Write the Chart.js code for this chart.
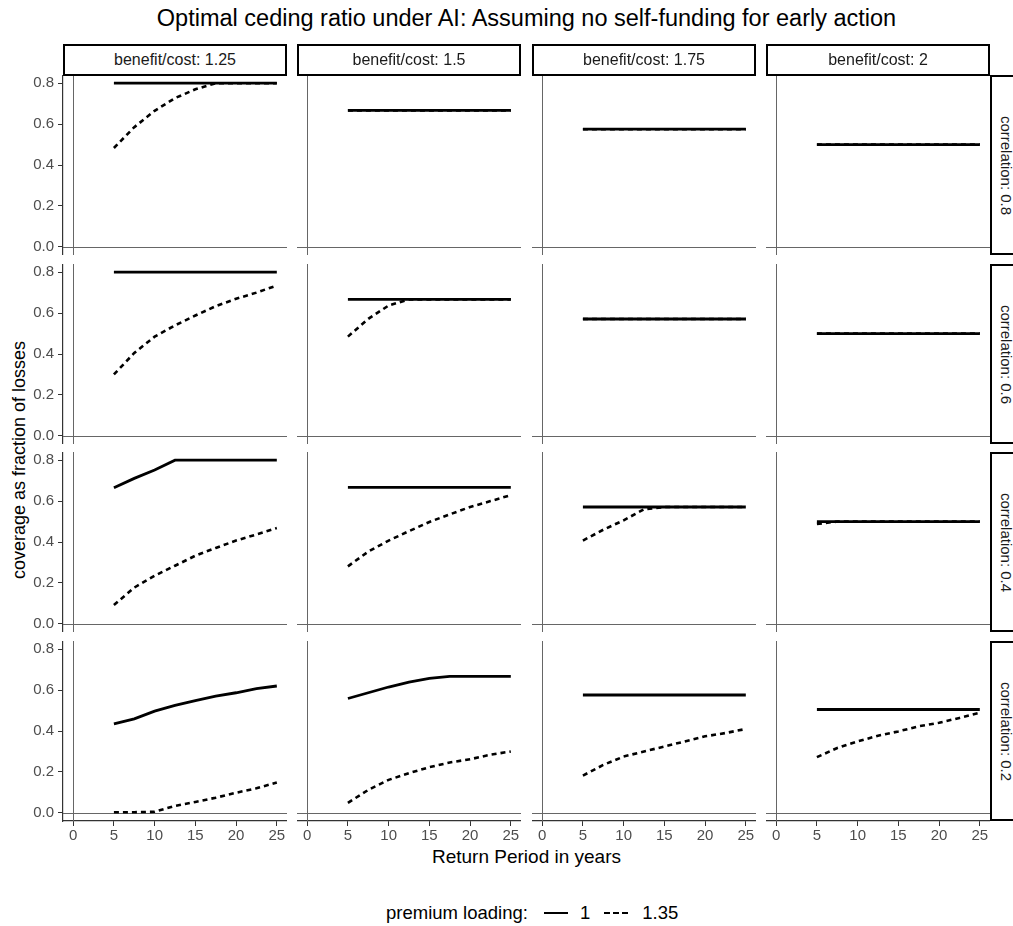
<!DOCTYPE html>
<html>
<head>
<meta charset="utf-8">
<script src="https://cdn.jsdelivr.net/npm/chart.js@4/dist/chart.umd.min.js"></script>
<style>
  body { margin: 0; background: #fff; font-family: 'Liberation Sans', Arial, sans-serif; }
  #wrap { position: relative; width: 1013px; height: 926px; overflow: hidden; }
  .abs { position: absolute; }
  .strip { position: absolute; box-sizing: border-box; border: 2px solid #000; background: #fff;
           font-size: 16px; color: #1a1a1a; display: flex; align-items: center; justify-content: center; }
  .rstrip { font-size: 15px; }
  .rstrip span { transform: rotate(90deg); white-space: nowrap; }
  .cell { position: absolute; }
</style>
</head>
<body>
<div id="wrap">
  <div class="abs" style="left:0;width:1053px;top:5px;text-align:center;font-size:23.5px;color:#000;">Optimal ceding ratio under AI: Assuming no self-funding for early action</div>
  <div class="abs" style="left:19px;top:460px;width:0;height:0;">
    <div style="position:absolute;transform:translate(-50%,-50%) rotate(-90deg);white-space:nowrap;font-size:18px;color:#000;">coverage as fraction of losses</div>
  </div>
  <div class="abs" style="left:0;width:1053px;top:846px;text-align:center;font-size:19px;color:#000;">Return Period in years</div>
  <div class="abs" style="left:386px;top:902px;font-size:18.5px;color:#000;display:flex;align-items:center;white-space:nowrap;">
    <span>premium loading:</span>
    <span style="display:inline-block;width:24px;border-top:2.5px solid #000;margin:0 12px 0 16px;"></span>
    <span>1</span>
    <span style="display:inline-block;width:24px;border-top:2.5px dashed #000;margin:0 14px 0 14px;"></span>
    <span>1.35</span>
  </div>
</div>
<script>
// x positions (return period) and facet labels
const returnPeriods = [5, 7.5, 10, 12.5, 15, 17.5, 20, 22.5, 25];
const benefitCost = ['1.25', '1.5', '1.75', '2'];
const correlations = ['0.8', '0.6', '0.4', '0.2'];
const xTicks = [0, 5, 10, 15, 20, 25];
const yTicks = [0, 0.2, 0.4, 0.6, 0.8];

// premium loading 1 (solid) - one list per benefit/cost column
const load1Corr08 = [
  [0.8, 0.8, 0.8, 0.8, 0.8, 0.8, 0.8, 0.8, 0.8],
  [0.667, 0.667, 0.667, 0.667, 0.667, 0.667, 0.667, 0.667, 0.667],
  [0.575, 0.575, 0.575, 0.575, 0.575, 0.575, 0.575, 0.575, 0.575],
  [0.5, 0.5, 0.5, 0.5, 0.5, 0.5, 0.5, 0.5, 0.5]
];
const load1Corr06 = [
  [0.8, 0.8, 0.8, 0.8, 0.8, 0.8, 0.8, 0.8, 0.8],
  [0.667, 0.667, 0.667, 0.667, 0.667, 0.667, 0.667, 0.667, 0.667],
  [0.571, 0.571, 0.571, 0.571, 0.571, 0.571, 0.571, 0.571, 0.571],
  [0.5, 0.5, 0.5, 0.5, 0.5, 0.5, 0.5, 0.5, 0.5]
];
const load1Corr04 = [
  [0.665, 0.711, 0.752, 0.8, 0.8, 0.8, 0.8, 0.8, 0.8],
  [0.667, 0.667, 0.667, 0.667, 0.667, 0.667, 0.667, 0.667, 0.667],
  [0.571, 0.571, 0.571, 0.571, 0.571, 0.571, 0.571, 0.571, 0.571],
  [0.5, 0.5, 0.5, 0.5, 0.5, 0.5, 0.5, 0.5, 0.5]
];
const load1Corr02 = [
  [0.435, 0.459, 0.497, 0.525, 0.549, 0.57, 0.587, 0.607, 0.62],
  [0.559, 0.587, 0.615, 0.639, 0.657, 0.667, 0.667, 0.667, 0.667],
  [0.576, 0.576, 0.576, 0.576, 0.576, 0.576, 0.576, 0.576, 0.576],
  [0.505, 0.505, 0.505, 0.505, 0.505, 0.505, 0.505, 0.505, 0.505]
];

// premium loading 1.35 (dashed)
const load135Corr08 = [
  [0.483, 0.585, 0.665, 0.727, 0.77, 0.8, 0.8, 0.8, 0.8],
  [0.667, 0.667, 0.667, 0.667, 0.667, 0.667, 0.667, 0.667, 0.667],
  [0.575, 0.575, 0.575, 0.575, 0.575, 0.575, 0.575, 0.575, 0.575],
  [0.5, 0.5, 0.5, 0.5, 0.5, 0.5, 0.5, 0.5, 0.5]
];
const load135Corr06 = [
  [0.3, 0.405, 0.485, 0.54, 0.588, 0.634, 0.67, 0.7, 0.735],
  [0.485, 0.572, 0.637, 0.667, 0.667, 0.667, 0.667, 0.667, 0.667],
  [0.571, 0.571, 0.571, 0.571, 0.571, 0.571, 0.571, 0.571, 0.571],
  [0.5, 0.5, 0.5, 0.5, 0.5, 0.5, 0.5, 0.5, 0.5]
];
const load135Corr04 = [
  [0.092, 0.177, 0.235, 0.284, 0.333, 0.371, 0.407, 0.437, 0.468],
  [0.281, 0.353, 0.407, 0.453, 0.498, 0.535, 0.571, 0.6, 0.629],
  [0.407, 0.46, 0.506, 0.56, 0.571, 0.571, 0.571, 0.571, 0.571],
  [0.488, 0.5, 0.5, 0.5, 0.5, 0.5, 0.5, 0.5, 0.5]
];
const load135Corr02 = [
  [0.003, 0.003, 0.005, 0.034, 0.053, 0.074, 0.098, 0.12, 0.148],
  [0.049, 0.112, 0.161, 0.194, 0.223, 0.246, 0.262, 0.284, 0.3],
  [0.182, 0.234, 0.275, 0.3, 0.324, 0.349, 0.374, 0.39, 0.41],
  [0.272, 0.317, 0.349, 0.377, 0.398, 0.423, 0.44, 0.464, 0.489]
];

const solidRows = [load1Corr08, load1Corr06, load1Corr04, load1Corr02];
const dashedRows = [load135Corr08, load135Corr06, load135Corr04, load135Corr02];

// panel layout
const colLeft = [63, 297, 532, 766];
const rowTop = [75, 264, 452, 641];
const panelW = 224;
const panelH = 180;
const axisW = 63;
const axisH = 30;

const wrap = document.getElementById('wrap');

// grey reference lines at x = 0 and y = 0
const zeroLines = {
  id: 'zeroLines',
  beforeDatasetsDraw(chart) {
    const { ctx, chartArea, scales } = chart;
    const x0 = Math.round(scales.x.getPixelForValue(0)) + 0.5;
    const y0 = Math.round(scales.y.getPixelForValue(0)) + 0.5;
    ctx.save();
    ctx.strokeStyle = '#666';
    ctx.lineWidth = 1;
    ctx.beginPath();
    ctx.moveTo(x0, chartArea.top);
    ctx.lineTo(x0, chartArea.bottom);
    ctx.moveTo(chartArea.left, y0);
    ctx.lineTo(chartArea.right, y0);
    ctx.stroke();
    ctx.restore();
  }
};

function pts(vals) {
  return vals.map((v, i) => ({ x: returnPeriods[i], y: v }));
}

function makePanel(r, c) {
  const showY = c === 0;
  const showX = r === 3;
  const left = showY ? colLeft[c] - axisW : colLeft[c];
  const w = panelW + (showY ? axisW : 0);
  const h = panelH + (showX ? axisH : 0);
  const box = document.createElement('div');
  box.className = 'cell';
  box.style.left = left + 'px';
  box.style.top = rowTop[r] + 'px';
  box.style.width = w + 'px';
  box.style.height = h + 'px';
  const cv = document.createElement('canvas');
  box.appendChild(cv);
  wrap.appendChild(box);

  const tickFont = { family: "'Liberation Sans', Arial, sans-serif", size: 15 };
  new Chart(cv, {
    type: 'line',
    data: {
      datasets: [
        // solid drawn on top of dashed (higher order is drawn first)
        { label: '1', data: pts(solidRows[r][c]), borderColor: '#000', borderWidth: 2.8,
          pointRadius: 0, tension: 0, fill: false, order: 0 },
        { label: '1.35', data: pts(dashedRows[r][c]), borderColor: '#000', borderWidth: 2.6,
          borderDash: [5, 4], pointRadius: 0, tension: 0, fill: false, order: 1 }
      ]
    },
    options: {
      responsive: true,
      maintainAspectRatio: false,
      animation: false,
      layout: { padding: 0, autoPadding: false },
      plugins: { legend: { display: false }, tooltip: { enabled: false } },
      scales: {
        x: {
          type: 'linear', min: -1.25, max: 26.25, display: showX,
          afterBuildTicks: (s) => { s.ticks = xTicks.map((v) => ({ value: v })); },
          afterFit: (s) => {
            s.height = showX ? axisH : 0;
            s.paddingLeft = 0; s.paddingRight = 0; s.paddingTop = 0; s.paddingBottom = 0;
          },
          grid: { drawOnChartArea: false, drawTicks: true, tickLength: 5, color: '#333' },
          border: { display: true, color: '#333', width: 1.2 },
          ticks: { color: '#4d4d4d', font: tickFont, padding: 1, maxRotation: 0, autoSkip: false }
        },
        y: {
          type: 'linear', min: -0.04, max: 0.84, display: showY,
          afterBuildTicks: (s) => { s.ticks = yTicks.map((v) => ({ value: v })); },
          afterFit: (s) => {
            s.width = showY ? axisW : 0;
            s.paddingLeft = 0; s.paddingRight = 0; s.paddingTop = 0; s.paddingBottom = 0;
          },
          grid: { drawOnChartArea: false, drawTicks: true, tickLength: 5, color: '#333' },
          border: { display: true, color: '#333', width: 1.2 },
          ticks: { color: '#4d4d4d', font: tickFont, padding: 4, autoSkip: false,
                   callback: (v) => Number(v).toFixed(1) }
        }
      }
    },
    plugins: [zeroLines]
  });
}

for (let r = 0; r < 4; r++) {
  for (let c = 0; c < 4; c++) makePanel(r, c);
}

// strips
benefitCost.forEach((b, c) => {
  const d = document.createElement('div');
  d.className = 'strip';
  d.style.left = colLeft[c] + 'px';
  d.style.top = '44px';
  d.style.width = panelW + 'px';
  d.style.height = '32px';
  d.textContent = 'benefit/cost: ' + b;
  wrap.appendChild(d);
});
correlations.forEach((k, r) => {
  const d = document.createElement('div');
  d.className = 'strip rstrip';
  d.style.left = (colLeft[3] + panelW) + 'px';
  d.style.top = rowTop[r] + 'px';
  d.style.width = '34px';
  d.style.height = panelH + 'px';
  d.innerHTML = '<span>correlation: ' + k + '</span>';
  wrap.appendChild(d);
});
</script>
</body>
</html>
